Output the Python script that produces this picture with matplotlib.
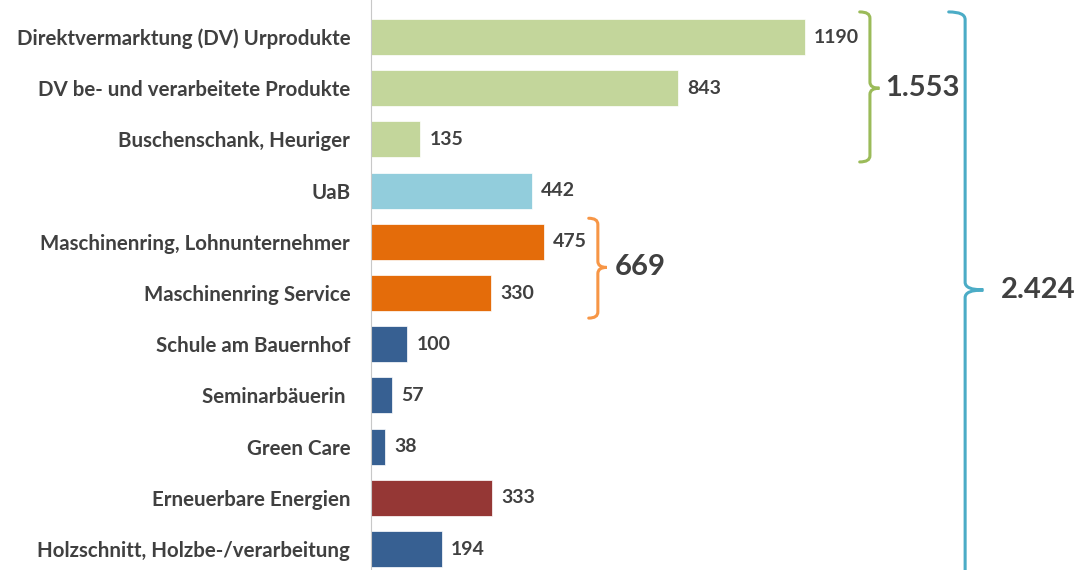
import matplotlib.pyplot as plt
from matplotlib.path import Path
from matplotlib.patches import PathPatch

categories = ['Direktvermarktung (DV) Urprodukte', 'DV be- und verarbeitete Produkte',
              'Buschenschank, Heuriger', 'UaB', 'Maschinenring, Lohnunternehmer',
              'Maschinenring Service', 'Schule am Bauernhof', 'Seminarbäuerin ',
              'Green Care', 'Erneuerbare Energien', 'Holzschnitt, Holzbe-/verarbeitung']
values = [1190, 843, 135, 442, 475, 330, 100, 57, 38, 333, 194]
colors = ['#C3D69B', '#C3D69B', '#C3D69B', '#92CDDC', '#E46C0A', '#E46C0A',
          '#376092', '#376092', '#376092', '#953735', '#376092']

# group totals shown with braces: (label, first idx, last idx, colour)
groups = [('1.553', 0, 2, '#9BBB59'), ('669', 4, 5, '#F79646')]
total_label = '2.424'

plt.rcParams['font.family'] = ['Lato', 'DejaVu Sans']
txt = '#404040'

fig = plt.figure(figsize=(10.76, 5.70), dpi=100)
ax = fig.add_axes([371 / 1076, 0, 705 / 1076, 1])

y = list(range(len(categories)))
ax.barh(y, values, height=0.7, color=colors, edgecolor='white', linewidth=0.5)
ax.set_xlim(0, 1933)
ax.set_ylim(10.41, -0.723)

ax.set_yticks(y)
ax.set_yticklabels(categories, fontsize=14.8, fontweight='bold', color=txt)
ax.tick_params(axis='y', length=0, pad=15)
ax.set_xticks([])
for s in ['top', 'right', 'bottom']:
    ax.spines[s].set_visible(False)
ax.spines['left'].set_color('#C8C8C8')

for i, v in enumerate(values):
    ax.text(v + 25, i, str(v), va='center', ha='left', fontsize=14,
            fontweight='bold', color=txt)


def brace(x, y0, y1, ym, hook, tip, ry, color):
    verts = [(x - hook, y0), (x, y0), (x, y0 + ry),
             (x, ym - ry), (x, ym), (x + tip, ym),
             (x, ym), (x, ym + ry),
             (x, y1 - ry), (x, y1), (x - hook, y1)]
    codes = [Path.MOVETO, Path.CURVE3, Path.CURVE3,
             Path.LINETO, Path.CURVE3, Path.CURVE3,
             Path.CURVE3, Path.CURVE3,
             Path.LINETO, Path.CURVE3, Path.CURVE3]
    ax.add_patch(PathPatch(Path(verts, codes), fill=False, edgecolor=color,
                           linewidth=2.2, capstyle='round'))


# green brace
brace(1368, -0.49, 2.44, 1.0, 28, 26, 0.12, groups[0][3])
ax.text(1410, 1.0, groups[0][0], va='center', ha='left', fontsize=21,
        fontweight='bold', color=txt)
# orange brace
brace(622, 3.54, 5.49, 4.5, 25, 24, 0.12, groups[1][3])
ax.text(668, 4.5, groups[1][0], va='center', ha='left', fontsize=21,
        fontweight='bold', color=txt)
# blue brace around everything
brace(1629, -0.49, 11.2, 4.94, 45, 50, 0.15, '#4BACC6')
ax.text(1728, 4.94, total_label, va='center', ha='left', fontsize=21,
        fontweight='bold', color=txt)

fig.savefig('out.png', dpi=100)
